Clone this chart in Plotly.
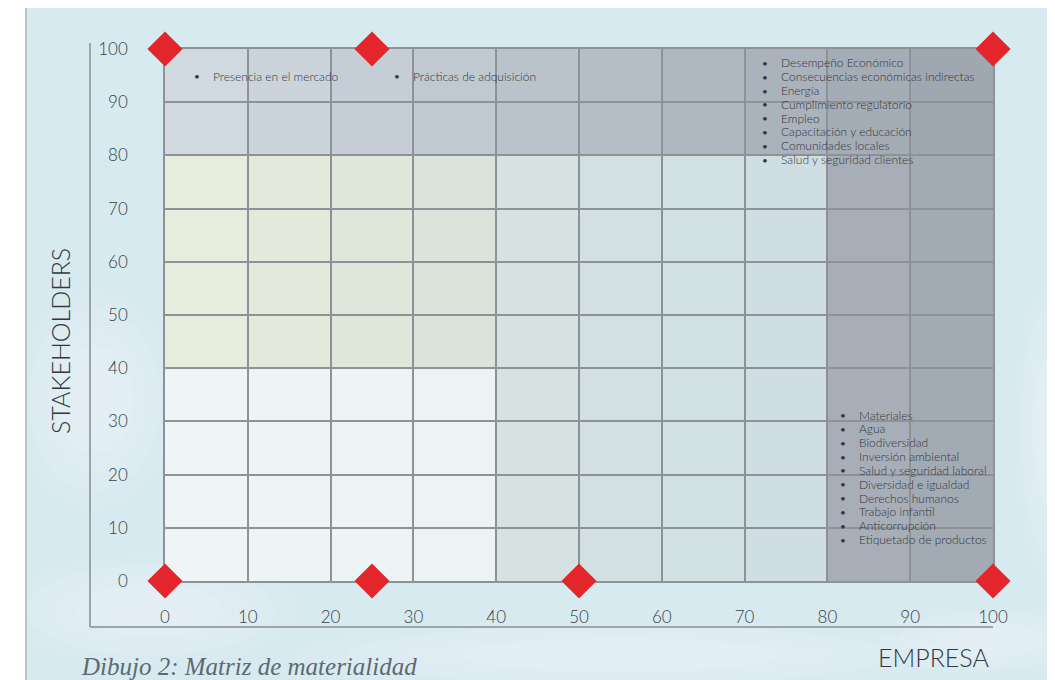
import plotly.graph_objects as go

# ---------------- data ----------------
tick_vals = [0, 10, 20, 30, 40, 50, 60, 70, 80, 90, 100]
tick_labels = [str(v) for v in tick_vals]

diamond_x = [0, 25, 100, 0, 25, 50, 100]
diamond_y = [100, 100, 100, 0, 0, 0, 0]

top_left_items = ["Presencia en el mercado", "Prácticas de adquisición"]
top_left_x = [3.3, 27.4]
top_left_y = 94.9

top_right_items = [
    "Desempeño Económico",
    "Consecuencias económicas indirectas",
    "Energía",
    "Cumplimiento regulatorio",
    "Empleo",
    "Capacitación y educación",
    "Comunidades locales",
    "Salud y seguridad clientes",
]
bottom_right_items = [
    "Materiales",
    "Agua",
    "Biodiversidad",
    "Inversión ambiental",
    "Salud y seguridad laboral",
    "Diversidad e igualdad",
    "Derechos humanos",
    "Trabajo infantil",
    "Anticorrupción",
    "Etiquetado de productos",
]

# zones: x0, x1, y0, y1, colour at left, colour at right
zones = [
    (0, 40, 0, 40, "#eef5f7", "#ebf3f5"),
    (0, 40, 40, 80, "#e9eedc", "#d9e3da"),
    (40, 80, 0, 80, "#d6e2e1", "#cedee3"),
    (80, 100, 0, 80, "#a9b0b9", "#a0a8b2"),
    (0, 100, 80, 100, "#d3dce3", "#9ca4ae"),
]

# ---------------- helpers ----------------
def hex2rgb(h):
    h = h.lstrip("#")
    return tuple(int(h[i:i + 2], 16) for i in (0, 2, 4))

def mix(c1, c2, t):
    a, b = hex2rgb(c1), hex2rgb(c2)
    return "rgb(%d,%d,%d)" % tuple(round(a[i] + (b[i] - a[i]) * t) for i in range(3))

OFF = 8  # page offset of the figure in the browser
W, H = 1055, 680
ML, MT = 157, 41
PW, PH = 828, 532
MR, MB = W - ML - PW, H - MT - PH

def px2paper_x(px):
    return (px - OFF - ML) / PW

def px2paper_y(py):
    return (MT + PH - (py - OFF)) / PH

shapes = []
# page background (white border at left, pale sky elsewhere)
shapes.append(dict(type="rect", xref="paper", yref="paper",
                   x0=px2paper_x(27), x1=px2paper_x(W + 20),
                   y0=px2paper_y(H + 20), y1=px2paper_y(8),
                   fillcolor="#d6eaf0", line_width=0, layer="below"))
# soft cloud-like highlights (stacked faint ellipses)
for (cx, cy, rx, ry) in [(95, 400, 80, 110), (150, 610, 150, 55),
                         (1050, 430, 35, 150), (620, 655, 330, 35),
                         (990, 640, 110, 35)]:
    for k in range(5):
        f = 1 - 0.17 * k
        shapes.append(dict(type="circle", xref="paper", yref="paper",
                           x0=px2paper_x(cx - rx * f), x1=px2paper_x(cx + rx * f),
                           y0=px2paper_y(cy + ry * f), y1=px2paper_y(cy - ry * f),
                           fillcolor="white", opacity=0.09, line_width=0, layer="below"))
shapes.append(dict(type="line", xref="paper", yref="paper",
                   x0=px2paper_x(26), x1=px2paper_x(26),
                   y0=px2paper_y(H + 20), y1=px2paper_y(8),
                   line=dict(color="#b9c4c8", width=2), layer="below"))

# zones split into 10-unit strips to imitate the gradients
for (x0, x1, y0, y1, cl, cr) in zones:
    n = int((x1 - x0) / 10)
    for i in range(n):
        t = (i + 0.5) / n
        shapes.append(dict(type="rect", xref="x", yref="y",
                           x0=x0 + 10 * i, x1=x0 + 10 * (i + 1), y0=y0, y1=y1,
                           fillcolor=mix(cl, cr, t), line_width=0, layer="below"))

# outer axis lines (offset from the grid box)
ax_col = "#9ea4a9"
shapes.append(dict(type="line", xref="paper", yref="paper",
                   x0=px2paper_x(90), x1=px2paper_x(90),
                   y0=px2paper_y(627), y1=px2paper_y(43),
                   line=dict(color=ax_col, width=2), layer="below"))
shapes.append(dict(type="line", xref="paper", yref="paper",
                   x0=px2paper_x(90), x1=1.0,
                   y0=px2paper_y(627), y1=px2paper_y(627),
                   line=dict(color=ax_col, width=2), layer="below"))

fig = go.Figure()
fig.add_trace(go.Scatter(
    x=diamond_x, y=diamond_y, mode="markers",
    marker=dict(symbol="diamond", size=27, color="#e2262c", line_width=0),
    cliponaxis=False, hoverinfo="skip", showlegend=False))

FAM = "Lato, 'Open Sans', sans-serif"
txt_font = dict(family=FAM, size=12, color="#33383d", weight=300)
bul_font = dict(family=FAM, size=10, color="#33383d")
annotations = []

def add_item(xb, xt, y, text):
    annotations.append(dict(x=xb, y=y, xref="x", yref="y", text="•",
                            showarrow=False, xanchor="left", yanchor="middle",
                            font=bul_font))
    annotations.append(dict(x=xt, y=y, xref="x", yref="y", text=text,
                            showarrow=False, xanchor="left", yanchor="middle",
                            font=txt_font))

for xb, item in zip(top_left_x, top_left_items):
    add_item(xb, xb + 2.3, top_left_y, item)

step = 2.6
for i, item in enumerate(top_right_items):
    add_item(71.8, 74.1, 97.4 - i * step, item)
for i, item in enumerate(bottom_right_items):
    add_item(81.3, 83.6, 31.2 - i * step, item)

title_font = dict(family=FAM, size=25, color="#33383c", weight=300)
annotations.append(dict(x=px2paper_x(60), y=px2paper_y(341), xref="paper", yref="paper",
                        text="STAKEHOLDERS", textangle=-90, showarrow=False,
                        xanchor="center", yanchor="middle", font=title_font))
annotations.append(dict(x=px2paper_x(933), y=px2paper_y(657), xref="paper", yref="paper",
                        text="EMPRESA", showarrow=False,
                        xanchor="center", yanchor="middle", font=title_font))
annotations.append(dict(x=px2paper_x(79), y=px2paper_y(666), xref="paper", yref="paper",
                        text="<i>Dibujo 2: Matriz de materialidad</i>", showarrow=False,
                        xanchor="left", yanchor="middle",
                        font=dict(family="'Liberation Serif', serif", size=25, color="#5f6973")))

grid_col = "#8d9297"
tick_font = dict(family=FAM, size=17, color="#3c4146", weight=300)
fig.update_layout(
    width=W, height=H, autosize=False,
    margin=dict(l=ML, r=MR, t=MT, b=MB),
    paper_bgcolor="white", plot_bgcolor="rgba(0,0,0,0)",
    shapes=shapes, annotations=annotations, showlegend=False,
    xaxis=dict(range=[0, 100], tickvals=tick_vals, ticktext=tick_labels,
               showgrid=True, gridcolor=grid_col, gridwidth=1.5,
               showline=True, mirror=True, linecolor=grid_col, linewidth=1.5,
               zeroline=False, ticks="", tickfont=tick_font, ticklabelstandoff=20,
               layer="below traces", fixedrange=True),
    yaxis=dict(range=[0, 100], tickvals=tick_vals, ticktext=tick_labels,
               showgrid=True, gridcolor=grid_col, gridwidth=1.5,
               showline=True, mirror=True, linecolor=grid_col, linewidth=1.5,
               zeroline=False, ticks="", tickfont=tick_font, ticklabelstandoff=32,
               layer="below traces", fixedrange=True),
)

fig.write_html("out.html")
